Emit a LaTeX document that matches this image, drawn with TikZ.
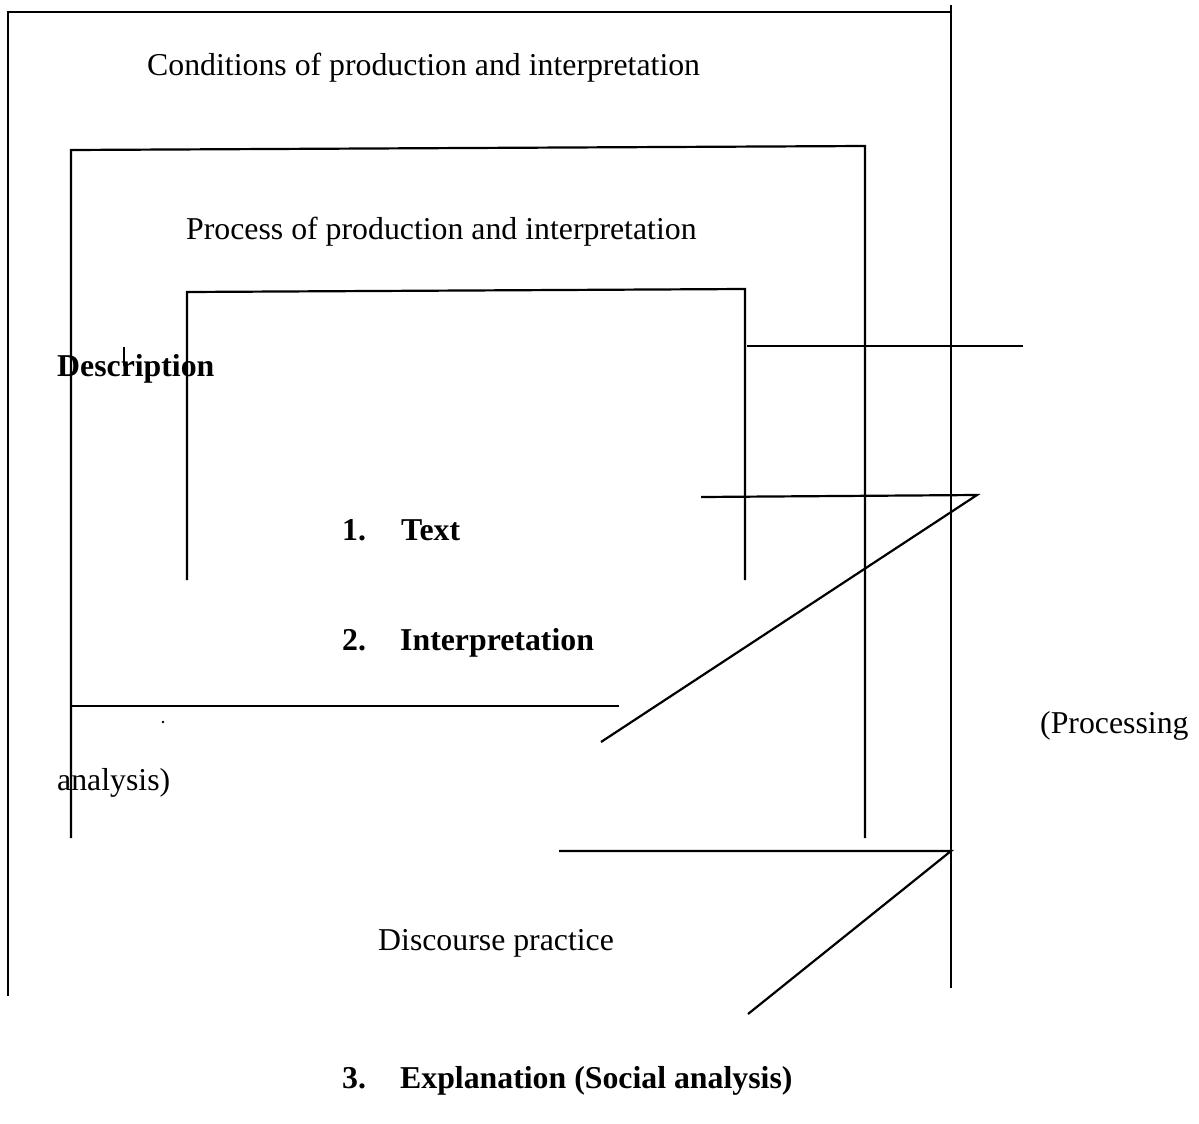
\documentclass[tikz,border=0pt]{standalone}
\usepackage{fontspec}
\setmainfont{Liberation Serif}
\begin{document}
\begin{tikzpicture}[x=1pt,y=-1pt,
  rule/.style={line width=2.2pt},
  lbl/.style={anchor=base west,inner sep=0pt,font=\fontsize{31.8}{38}\selectfont},
  blbl/.style={lbl,font=\fontsize{31.8}{38}\selectfont\bfseries}]
\useasboundingbox (0,0) rectangle (1199,1124);
\fill[white] (0,0) rectangle (1199,1124);

% outer frame: conditions
\draw[rule] (8,996) -- (8,12) -- (951,12);
\draw[rule] (951,5) -- (951,988);
% middle frame: process
\draw[rule] (71,838) -- (71,150) -- (865,146) -- (865,838);
% inner frame: text
\draw[rule] (187,580) -- (187,292) -- (745,289) -- (745,580);

% bracket lines on the right
\draw[rule] (747,346) -- (1023,346);
\draw[rule] (701,497) -- (977,495) -- (601,742);
\draw[rule] (71,706) -- (619,706);
\draw[rule] (559,851) -- (951,851) -- (748,1014);
\draw[line width=1.6pt] (124,347) -- (124,366);
\fill (163,722) circle (1.3);

% labels
\node[lbl]  (cond) at (147,75)  {Conditions of production and interpretation};
\node[lbl]  (proc) at (186,239) {Process of production and interpretation};
\node[blbl] (desc) at (57,376)  {Description};
\node[blbl] (n1)   at (342,540) {1.};
\node[blbl] (txt)  at (401,540) {Text};
\node[blbl] (n2)   at (342,650) {2.};
\node[blbl] (intp) at (400,650) {Interpretation};
\node[lbl]  (prc)  at (1040,733) {(Processing};
\node[lbl]  (anl)  at (57,790)  {analysis)};
\node[lbl]  (disc) at (378,950) {Discourse practice};
\node[blbl] (n3)   at (342,1088) {3.};
\node[blbl] (expl) at (400,1088) {Explanation (Social analysis)};
\end{tikzpicture}
\end{document}
